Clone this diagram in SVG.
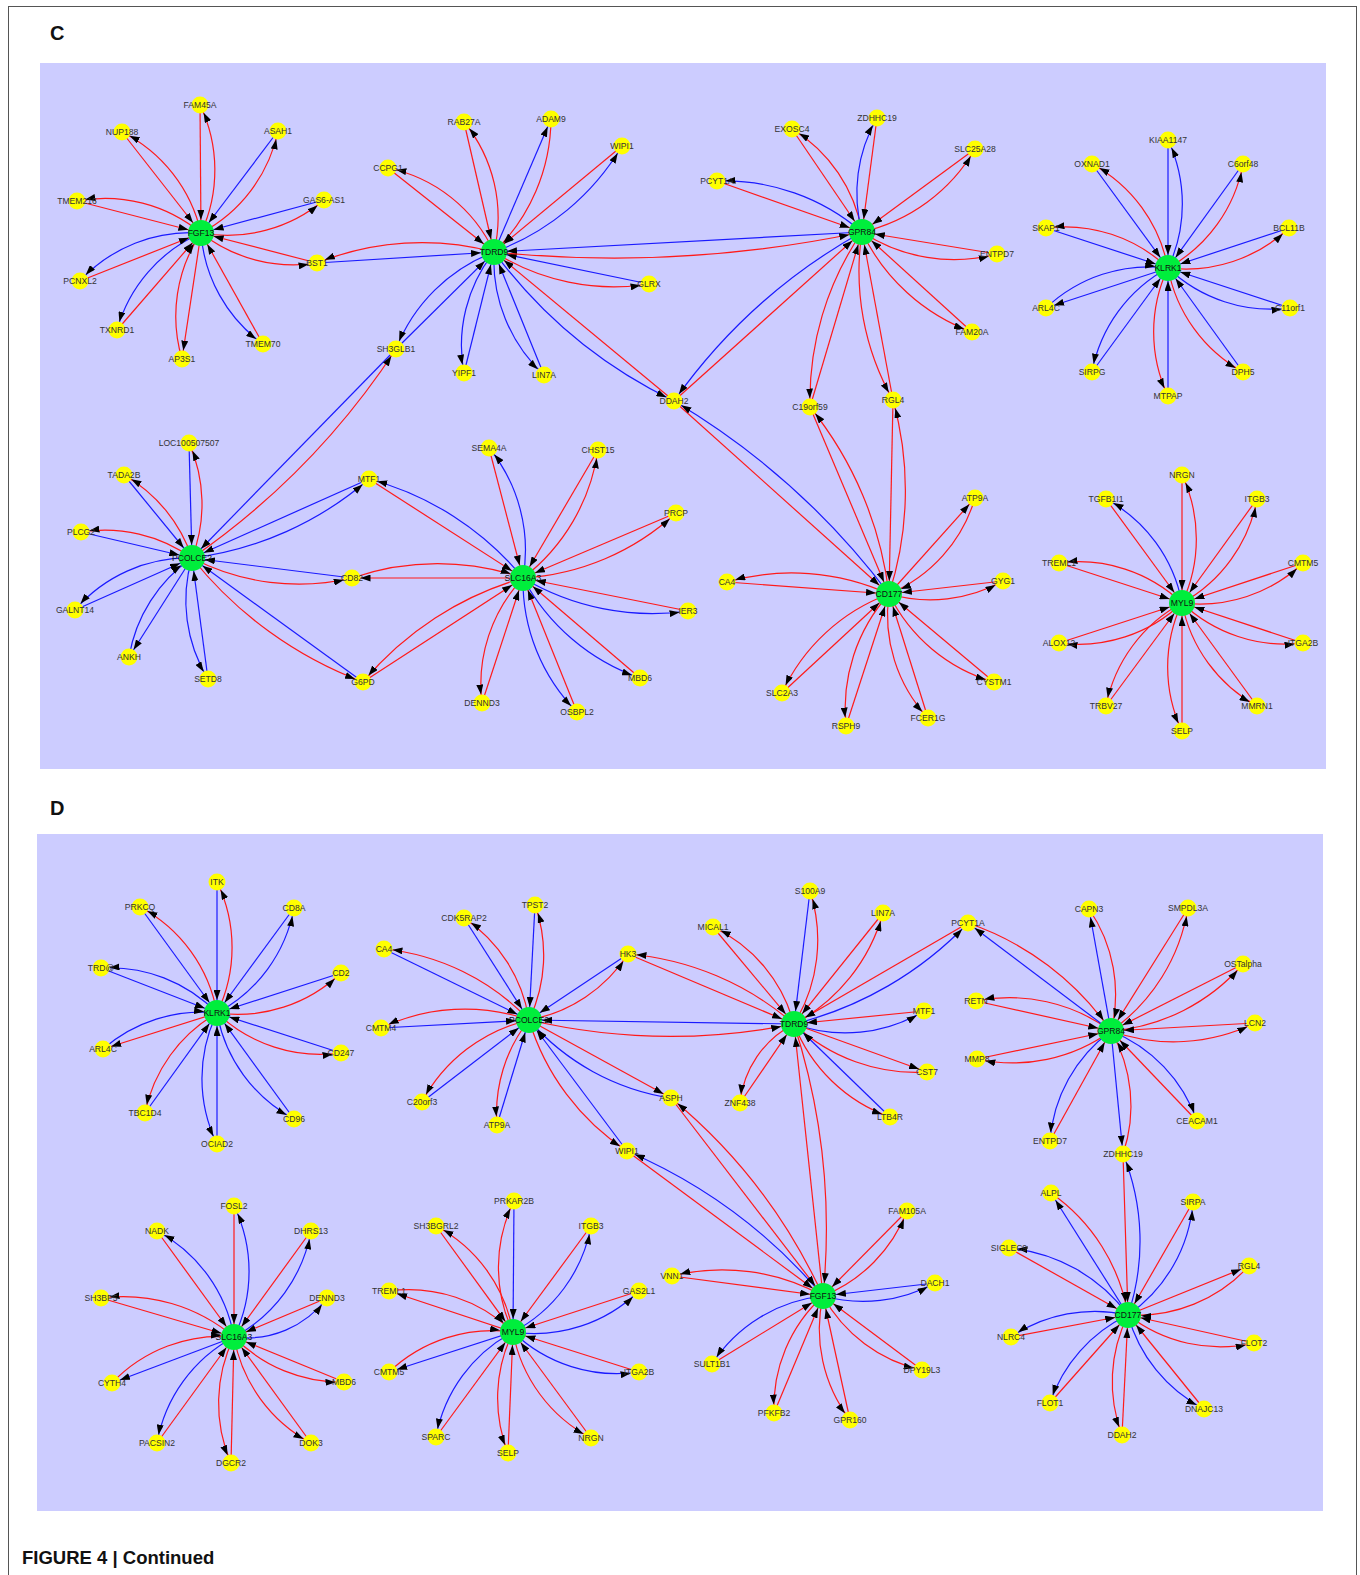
<svg xmlns="http://www.w3.org/2000/svg" width="1360" height="1575" viewBox="0 0 1360 1575">
<defs>
<marker id="ah" markerUnits="userSpaceOnUse" viewBox="0 0 10 7" refX="23" refY="3.5" markerWidth="10" markerHeight="7" orient="auto"><path d="M0 0L10 3.5L0 7z" fill="#000"/></marker>
<marker id="as" markerUnits="userSpaceOnUse" viewBox="0 0 10 7" refX="18.5" refY="3.5" markerWidth="10" markerHeight="7" orient="auto"><path d="M0 0L10 3.5L0 7z" fill="#000"/></marker>
<style>
#edges path{fill:none;stroke-width:1.2}
.r{stroke:#ff1a1a}.b{stroke:#1a1aff}
.h{marker-end:url(#ah)}.s{marker-end:url(#as)}
.hub circle{fill:#00ee3c}.sat circle{fill:#ffff00}
.hub text,.sat text{font-family:"Liberation Sans",Arial,sans-serif;font-size:8.6px;text-anchor:middle;fill:#333}
.hub text{fill:#111}
.title{font-family:"Liberation Sans",Arial,sans-serif;font-weight:bold;fill:#111}
</style>
</defs>
<rect x="0" y="0" width="1360" height="1575" fill="#fff"/>
<rect x="8.5" y="6.5" width="1348" height="1580" fill="none" stroke="#555" stroke-width="1"/>
<text class="title" x="50" y="40" font-size="20">C</text>
<text class="title" x="50" y="815" font-size="20">D</text>
<text class="title" x="22" y="1564" font-size="18.5" fill="#1d2535">FIGURE 4 | Continued</text>
<rect x="40" y="63" width="1286" height="706" fill="#ccccff"/>
<rect x="37" y="834" width="1286" height="677" fill="#ccccff"/>
<g id="edges">
<path class="r h" d="M200 105L201 233"/><path class="r s" d="M201 233A150 150 0 0 0 200 105"/>
<path class="r h" d="M122 132L201 233"/><path class="r s" d="M201 233A150 150 0 0 0 122 132"/>
<path class="b h" d="M278 131L201 233"/><path class="r s" d="M201 233A150 150 0 0 0 278 131"/>
<path class="r h" d="M77 201L201 233"/><path class="r s" d="M201 233A150 150 0 0 0 77 201"/>
<path class="b h" d="M324 200L201 233"/><path class="r s" d="M201 233A150 150 0 0 0 324 200"/>
<path class="r h" d="M317 263L201 233"/><path class="r s" d="M201 233A150 150 0 0 0 317 263"/>
<path class="r h" d="M263 344L201 233"/><path class="b s" d="M201 233A150 150 0 0 0 263 344"/>
<path class="r s" d="M201 233L182 359"/><path class="r h" d="M182 359A150 150 0 0 1 201 233"/>
<path class="r h" d="M117 330L201 233"/><path class="b s" d="M201 233A150 150 0 0 0 117 330"/>
<path class="r h" d="M80 281L201 233"/><path class="b s" d="M201 233A150 150 0 0 0 80 281"/>
<path class="r h" d="M388 168L494 252"/><path class="r s" d="M494 252A150 150 0 0 0 388 168"/>
<path class="r h" d="M464 122L494 252"/><path class="r s" d="M494 252A150 150 0 0 0 464 122"/>
<path class="b s" d="M494 252L551 119"/><path class="r h" d="M551 119A187 187 0 0 1 494 252"/>
<path class="r h" d="M622 146L494 252"/><path class="b s" d="M494 252A247 247 0 0 0 622 146"/>
<path class="b h" d="M649 284L494 252"/><path class="r s" d="M494 252A224 224 0 0 0 649 284"/>
<path class="b h" d="M544 375L494 252"/><path class="b s" d="M494 252A157 157 0 0 0 544 375"/>
<path class="r h" d="M674 401L494 252"/><path class="b s" d="M494 252A488 488 0 0 0 674 401"/>
<path class="b h" d="M464 373L494 252"/><path class="b s" d="M494 252A150 150 0 0 0 464 373"/>
<path class="b h" d="M396 349L494 252"/><path class="b s" d="M494 252A170 170 0 0 0 396 349"/>
<path class="b h" d="M317 263L494 252"/><path class="r s" d="M494 252A280 280 0 0 0 317 263"/>
<path class="b h" d="M862 232L494 252"/><path class="r h" d="M494 252A1200 1200 0 0 0 862 232"/>
<path class="r h" d="M717 181L862 232"/><path class="b s" d="M862 232A211 211 0 0 0 717 181"/>
<path class="r h" d="M792 129L862 232"/><path class="r s" d="M862 232A150 150 0 0 0 792 129"/>
<path class="r h" d="M877 118L862 232"/><path class="b s" d="M862 232A150 150 0 0 1 877 118"/>
<path class="r h" d="M975 149L862 232"/><path class="r s" d="M862 232A176 176 0 0 0 975 149"/>
<path class="r h" d="M997 254L862 232"/><path class="r s" d="M862 232A167 167 0 0 0 997 254"/>
<path class="r h" d="M972 332L862 232"/><path class="r s" d="M862 232A197 197 0 0 0 972 332"/>
<path class="r h" d="M893 400L862 232"/><path class="r s" d="M862 232A260 260 0 0 0 893 400"/>
<path class="r h" d="M810 407L862 232"/><path class="r s" d="M862 232A297 297 0 0 0 810 407"/>
<path class="r h" d="M674 401L862 232"/><path class="b s" d="M862 232A571 571 0 0 0 674 401"/>
<path class="r h" d="M893 400L889 594"/><path class="r s" d="M889 594A336 336 0 0 0 893 400"/>
<path class="r h" d="M810 407L889 594"/><path class="r s" d="M889 594A368 368 0 0 0 810 407"/>
<path class="r h" d="M674 401L889 594"/><path class="b s" d="M889 594A745 745 0 0 0 674 401"/>
<path class="r h" d="M727 582L889 594"/><path class="r s" d="M889 594A236 236 0 0 0 727 582"/>
<path class="r h" d="M782 693L889 594"/><path class="r s" d="M889 594A190 190 0 0 0 782 693"/>
<path class="r h" d="M846 726L889 594"/><path class="r s" d="M889 594A172 172 0 0 0 846 726"/>
<path class="r h" d="M928 718L889 594"/><path class="r s" d="M889 594A151 151 0 0 0 928 718"/>
<path class="r h" d="M994 682L889 594"/><path class="r s" d="M889 594A168 168 0 0 0 994 682"/>
<path class="r h" d="M1003 581L889 594"/><path class="r s" d="M889 594A150 150 0 0 0 1003 581"/>
<path class="r s" d="M889 594L975 498"/><path class="r h" d="M975 498A150 150 0 0 1 889 594"/>
<path class="b h" d="M1168 140L1168 268"/><path class="b s" d="M1168 268A150 150 0 0 0 1168 140"/>
<path class="b h" d="M1092 164L1168 268"/><path class="r s" d="M1168 268A150 150 0 0 0 1092 164"/>
<path class="b h" d="M1243 164L1168 268"/><path class="r s" d="M1168 268A150 150 0 0 0 1243 164"/>
<path class="b h" d="M1046 228L1168 268"/><path class="r s" d="M1168 268A150 150 0 0 0 1046 228"/>
<path class="b h" d="M1289 228L1168 268"/><path class="r s" d="M1168 268A150 150 0 0 0 1289 228"/>
<path class="b h" d="M1290 308L1168 268"/><path class="b s" d="M1168 268A150 150 0 0 0 1290 308"/>
<path class="b h" d="M1243 372L1168 268"/><path class="r s" d="M1168 268A150 150 0 0 0 1243 372"/>
<path class="b h" d="M1168 396L1168 268"/><path class="r s" d="M1168 268A150 150 0 0 0 1168 396"/>
<path class="b h" d="M1092 372L1168 268"/><path class="b s" d="M1168 268A150 150 0 0 0 1092 372"/>
<path class="b s" d="M1168 268L1046 308"/><path class="b h" d="M1046 308A150 150 0 0 1 1168 268"/>
<path class="b h" d="M189 443L192 558"/><path class="r s" d="M192 558A150 150 0 0 0 189 443"/>
<path class="b h" d="M124 475L192 558"/><path class="r s" d="M192 558A150 150 0 0 0 124 475"/>
<path class="b h" d="M81 532L192 558"/><path class="r s" d="M192 558A150 150 0 0 0 81 532"/>
<path class="b h" d="M75 610L192 558"/><path class="b s" d="M192 558A150 150 0 0 0 75 610"/>
<path class="b s" d="M192 558L129 657"/><path class="b h" d="M129 657A150 150 0 0 1 192 558"/>
<path class="b h" d="M208 679L192 558"/><path class="b s" d="M192 558A150 150 0 0 0 208 679"/>
<path class="b h" d="M363 682L192 558"/><path class="r s" d="M192 558A398 398 0 0 0 363 682"/>
<path class="b h" d="M352 578L192 558"/><path class="r s" d="M192 558A232 232 0 0 0 352 578"/>
<path class="b h" d="M369 479L192 558"/><path class="b s" d="M192 558A335 335 0 0 0 369 479"/>
<path class="b h" d="M396 349L192 558"/><path class="r s" d="M192 558A761 761 0 0 0 396 349"/>
<path class="r h" d="M369 479L523 578"/><path class="b s" d="M523 578A299 299 0 0 0 369 479"/>
<path class="r h" d="M489 448L523 578"/><path class="b s" d="M523 578A161 161 0 0 0 489 448"/>
<path class="r h" d="M598 450L523 578"/><path class="r s" d="M523 578A197 197 0 0 0 598 450"/>
<path class="r h" d="M676 513L523 578"/><path class="r s" d="M523 578A247 247 0 0 0 676 513"/>
<path class="r h" d="M688 611L523 578"/><path class="b s" d="M523 578A253 253 0 0 0 688 611"/>
<path class="r h" d="M640 678L523 578"/><path class="b s" d="M523 578A211 211 0 0 0 640 678"/>
<path class="r h" d="M577 712L523 578"/><path class="b s" d="M523 578A186 186 0 0 0 577 712"/>
<path class="r h" d="M482 703L523 578"/><path class="r s" d="M523 578A155 155 0 0 0 482 703"/>
<path class="r h" d="M363 682L523 578"/><path class="r s" d="M523 578A325 325 0 0 0 363 682"/>
<path class="r s" d="M523 578L352 578"/><path class="r h" d="M352 578A261 261 0 0 1 523 578"/>
<path class="r h" d="M1182 475L1182 603"/><path class="r s" d="M1182 603A150 150 0 0 0 1182 475"/>
<path class="r h" d="M1106 499L1182 603"/><path class="b s" d="M1182 603A150 150 0 0 0 1106 499"/>
<path class="r h" d="M1257 499L1182 603"/><path class="r s" d="M1182 603A150 150 0 0 0 1257 499"/>
<path class="r h" d="M1303 563L1182 603"/><path class="r s" d="M1182 603A150 150 0 0 0 1303 563"/>
<path class="r h" d="M1303 643L1182 603"/><path class="r s" d="M1182 603A150 150 0 0 0 1303 643"/>
<path class="r h" d="M1257 706L1182 603"/><path class="r s" d="M1182 603A150 150 0 0 0 1257 706"/>
<path class="r h" d="M1182 731L1182 603"/><path class="r s" d="M1182 603A150 150 0 0 0 1182 731"/>
<path class="r h" d="M1106 706L1182 603"/><path class="r s" d="M1182 603A150 150 0 0 0 1106 706"/>
<path class="r h" d="M1059 643L1182 603"/><path class="r s" d="M1182 603A150 150 0 0 1 1059 643"/>
<path class="r h" d="M1059 563L1182 603"/><path class="r s" d="M1182 603A150 150 0 0 0 1059 563"/>
<path class="b h" d="M217 882L217 1013"/><path class="r s" d="M217 1013A150 150 0 0 0 217 882"/>
<path class="b h" d="M140 907L217 1013"/><path class="r s" d="M217 1013A150 150 0 0 0 140 907"/>
<path class="b h" d="M294 908L217 1013"/><path class="b s" d="M217 1013A150 150 0 0 0 294 908"/>
<path class="b h" d="M341 973L217 1013"/><path class="r s" d="M217 1013A150 150 0 0 0 341 973"/>
<path class="b h" d="M341 1053L217 1013"/><path class="r s" d="M217 1013A150 150 0 0 0 341 1053"/>
<path class="b h" d="M294 1119L217 1013"/><path class="b s" d="M217 1013A150 150 0 0 0 294 1119"/>
<path class="b h" d="M217 1144L217 1013"/><path class="b s" d="M217 1013A150 150 0 0 0 217 1144"/>
<path class="b h" d="M145 1113L217 1013"/><path class="r s" d="M217 1013A150 150 0 0 0 145 1113"/>
<path class="r s" d="M217 1013L103 1049"/><path class="b h" d="M103 1049A150 150 0 0 1 217 1013"/>
<path class="b h" d="M101 968L217 1013"/><path class="b s" d="M217 1013A150 150 0 0 0 101 968"/>
<path class="b h" d="M535 905L529 1020"/><path class="r s" d="M529 1020A150 150 0 0 0 535 905"/>
<path class="b h" d="M464 918L529 1020"/><path class="r s" d="M529 1020A150 150 0 0 0 464 918"/>
<path class="b h" d="M384 949L529 1020"/><path class="r s" d="M529 1020A233 233 0 0 0 384 949"/>
<path class="b h" d="M381 1028L529 1020"/><path class="r s" d="M529 1020A196 196 0 0 0 381 1028"/>
<path class="b h" d="M422 1102L529 1020"/><path class="r s" d="M529 1020A162 162 0 0 0 422 1102"/>
<path class="b h" d="M497 1125L529 1020"/><path class="r s" d="M529 1020A150 150 0 0 0 497 1125"/>
<path class="b h" d="M627 1151L529 1020"/><path class="r s" d="M529 1020A239 239 0 0 0 627 1151"/>
<path class="r s" d="M529 1020L671 1098"/><path class="b h" d="M671 1098A234 234 0 0 1 529 1020"/>
<path class="b h" d="M628 954L529 1020"/><path class="r s" d="M529 1020A150 150 0 0 0 628 954"/>
<path class="b h" d="M794 1024L529 1020"/><path class="r h" d="M529 1020A627 627 0 0 0 794 1024"/>
<path class="b h" d="M810 891L794 1024"/><path class="r s" d="M794 1024A160 160 0 0 0 810 891"/>
<path class="r h" d="M883 913L794 1024"/><path class="r s" d="M794 1024A181 181 0 0 0 883 913"/>
<path class="r h" d="M968 923L794 1024"/><path class="b s" d="M794 1024A361 361 0 0 0 968 923"/>
<path class="r h" d="M924 1011L794 1024"/><path class="b s" d="M794 1024A152 152 0 0 0 924 1011"/>
<path class="r s" d="M794 1024L927 1072"/><path class="r h" d="M927 1072A178 178 0 0 1 794 1024"/>
<path class="b h" d="M890 1117L794 1024"/><path class="r s" d="M794 1024A160 160 0 0 0 890 1117"/>
<path class="r h" d="M740 1103L794 1024"/><path class="r s" d="M794 1024A100 100 0 0 0 740 1103"/>
<path class="r h" d="M713 927L794 1024"/><path class="r s" d="M794 1024A150 150 0 0 0 713 927"/>
<path class="r h" d="M628 954L794 1024"/><path class="r s" d="M794 1024A290 290 0 0 0 628 954"/>
<path class="r h" d="M823 1296L794 1024"/><path class="r h" d="M794 1024A668 668 0 0 1 823 1296"/>
<path class="r h" d="M627 1151L823 1296"/><path class="b s" d="M823 1296A531 531 0 0 0 627 1151"/>
<path class="r h" d="M671 1098L823 1296"/><path class="r s" d="M823 1296A556 556 0 0 0 671 1098"/>
<path class="r h" d="M672 1276L823 1296"/><path class="r s" d="M823 1296A207 207 0 0 0 672 1276"/>
<path class="r h" d="M712 1364L823 1296"/><path class="b s" d="M823 1296A151 151 0 0 0 712 1364"/>
<path class="r h" d="M774 1413L823 1296"/><path class="r s" d="M823 1296A150 150 0 0 0 774 1413"/>
<path class="r h" d="M850 1420L823 1296"/><path class="r s" d="M823 1296A150 150 0 0 0 850 1420"/>
<path class="r h" d="M922 1370L823 1296"/><path class="r s" d="M823 1296A150 150 0 0 0 922 1370"/>
<path class="b h" d="M935 1283L823 1296"/><path class="b s" d="M823 1296A150 150 0 0 0 935 1283"/>
<path class="r h" d="M907 1211L823 1296"/><path class="r s" d="M823 1296A150 150 0 0 0 907 1211"/>
<path class="b h" d="M514 1201L513 1332"/><path class="r s" d="M513 1332A150 150 0 0 1 514 1201"/>
<path class="r h" d="M591 1226L513 1332"/><path class="b s" d="M513 1332A150 150 0 0 0 591 1226"/>
<path class="r h" d="M639 1291L513 1332"/><path class="b s" d="M513 1332A150 150 0 0 0 639 1291"/>
<path class="r h" d="M639 1372L513 1332"/><path class="b s" d="M513 1332A150 150 0 0 0 639 1372"/>
<path class="r h" d="M591 1438L513 1332"/><path class="r s" d="M513 1332A150 150 0 0 0 591 1438"/>
<path class="r h" d="M508 1453L513 1332"/><path class="r s" d="M513 1332A150 150 0 0 0 508 1453"/>
<path class="r h" d="M436 1437L513 1332"/><path class="b s" d="M513 1332A150 150 0 0 0 436 1437"/>
<path class="b s" d="M513 1332L389 1372"/><path class="r h" d="M389 1372A150 150 0 0 1 513 1332"/>
<path class="r s" d="M513 1332L389 1291"/><path class="r h" d="M389 1291A150 150 0 0 1 513 1332"/>
<path class="r h" d="M436 1226L513 1332"/><path class="r s" d="M513 1332A150 150 0 0 0 436 1226"/>
<path class="r h" d="M234 1206L234 1337"/><path class="b s" d="M234 1337A150 150 0 0 0 234 1206"/>
<path class="r h" d="M157 1231L234 1337"/><path class="b s" d="M234 1337A150 150 0 0 0 157 1231"/>
<path class="r h" d="M311 1231L234 1337"/><path class="b s" d="M234 1337A150 150 0 0 0 311 1231"/>
<path class="r h" d="M327 1298L234 1337"/><path class="b s" d="M234 1337A100 100 0 0 0 327 1298"/>
<path class="r h" d="M344 1382L234 1337"/><path class="r s" d="M234 1337A150 150 0 0 0 344 1382"/>
<path class="r h" d="M311 1443L234 1337"/><path class="r s" d="M234 1337A150 150 0 0 0 311 1443"/>
<path class="r h" d="M231 1463L234 1337"/><path class="r s" d="M234 1337A150 150 0 0 0 231 1463"/>
<path class="r h" d="M157 1443L234 1337"/><path class="b s" d="M234 1337A150 150 0 0 0 157 1443"/>
<path class="b s" d="M234 1337L112 1383"/><path class="r h" d="M112 1383A150 150 0 0 1 234 1337"/>
<path class="r h" d="M101 1298L234 1337"/><path class="r s" d="M234 1337A172 172 0 0 0 101 1298"/>
<path class="b s" d="M1111 1031L1089 909"/><path class="r h" d="M1089 909A150 150 0 0 1 1111 1031"/>
<path class="r h" d="M1188 908L1111 1031"/><path class="r s" d="M1111 1031A188 188 0 0 0 1188 908"/>
<path class="r h" d="M1243 964L1111 1031"/><path class="r s" d="M1111 1031A196 196 0 0 0 1243 964"/>
<path class="r h" d="M1255 1023L1111 1031"/><path class="r s" d="M1111 1031A186 186 0 0 0 1255 1023"/>
<path class="r h" d="M1197 1121L1111 1031"/><path class="b s" d="M1111 1031A150 150 0 0 1 1197 1121"/>
<path class="b s" d="M1111 1031L1123 1154"/><path class="r h" d="M1123 1154A150 150 0 0 0 1111 1031"/>
<path class="r h" d="M1050 1141L1111 1031"/><path class="b s" d="M1111 1031A150 150 0 0 0 1050 1141"/>
<path class="r h" d="M977 1059L1111 1031"/><path class="r s" d="M1111 1031A167 167 0 0 1 977 1059"/>
<path class="r h" d="M976 1001L1111 1031"/><path class="r s" d="M1111 1031A171 171 0 0 0 976 1001"/>
<path class="b s" d="M1111 1031L968 923"/><path class="r h" d="M968 923A287 287 0 0 1 1111 1031"/>
<path class="r h" d="M1123 1154L1128 1315"/><path class="b s" d="M1128 1315A232 232 0 0 0 1123 1154"/>
<path class="b s" d="M1128 1315L1051 1193"/><path class="r h" d="M1051 1193A186 186 0 0 1 1128 1315"/>
<path class="r h" d="M1193 1202L1128 1315"/><path class="b s" d="M1128 1315A152 152 0 0 0 1193 1202"/>
<path class="r s" d="M1128 1315L1249 1266"/><path class="r h" d="M1249 1266A152 152 0 0 1 1128 1315"/>
<path class="r h" d="M1254 1343L1128 1315"/><path class="r s" d="M1128 1315A150 150 0 0 0 1254 1343"/>
<path class="r h" d="M1204 1409L1128 1315"/><path class="b s" d="M1128 1315A150 150 0 0 0 1204 1409"/>
<path class="r h" d="M1122 1435L1128 1315"/><path class="r s" d="M1128 1315A150 150 0 0 0 1122 1435"/>
<path class="r h" d="M1050 1403L1128 1315"/><path class="b s" d="M1128 1315A150 150 0 0 0 1050 1403"/>
<path class="r h" d="M1011 1337L1128 1315"/><path class="b s" d="M1128 1315A150 150 0 0 0 1011 1337"/>
<path class="r h" d="M1009 1248L1128 1315"/><path class="b s" d="M1128 1315A167 167 0 0 0 1009 1248"/>
</g>
<g id="nodes-c">
<g id="c-FGF13" class="hub"><circle cx="201" cy="233" r="13"/><text x="201" y="236">FGF13</text></g>
<g id="c-TDRD9" class="hub"><circle cx="494" cy="252" r="13"/><text x="494" y="255">TDRD9</text></g>
<g id="c-GPR84" class="hub"><circle cx="862" cy="232" r="13"/><text x="862" y="235">GPR84</text></g>
<g id="c-KLRK1" class="hub"><circle cx="1168" cy="268" r="13"/><text x="1168" y="271">KLRK1</text></g>
<g id="c-PCOLCE2" class="hub"><circle cx="192" cy="558" r="13"/><text x="192" y="561">PCOLCE2</text></g>
<g id="c-SLC16A3" class="hub"><circle cx="523" cy="578" r="13"/><text x="523" y="581">SLC16A3</text></g>
<g id="c-CD177" class="hub"><circle cx="889" cy="594" r="13"/><text x="889" y="597">CD177</text></g>
<g id="c-MYL9" class="hub"><circle cx="1182" cy="603" r="13"/><text x="1182" y="606">MYL9</text></g>
<g id="c-FAM45A" class="sat"><circle cx="200" cy="105" r="8.5"/><text x="200" y="108">FAM45A</text></g>
<g id="c-NUP188" class="sat"><circle cx="122" cy="132" r="8.5"/><text x="122" y="135">NUP188</text></g>
<g id="c-ASAH1" class="sat"><circle cx="278" cy="131" r="8.5"/><text x="278" y="134">ASAH1</text></g>
<g id="c-TMEM216" class="sat"><circle cx="77" cy="201" r="8.5"/><text x="77" y="204">TMEM216</text></g>
<g id="c-GAS6-AS1" class="sat"><circle cx="324" cy="200" r="8.5"/><text x="324" y="203">GAS6-AS1</text></g>
<g id="c-PCNXL2" class="sat"><circle cx="80" cy="281" r="8.5"/><text x="80" y="284">PCNXL2</text></g>
<g id="c-BST1" class="sat"><circle cx="317" cy="263" r="8.5"/><text x="317" y="266">BST1</text></g>
<g id="c-TXNRD1" class="sat"><circle cx="117" cy="330" r="8.5"/><text x="117" y="333">TXNRD1</text></g>
<g id="c-AP3S1" class="sat"><circle cx="182" cy="359" r="8.5"/><text x="182" y="362">AP3S1</text></g>
<g id="c-TMEM70" class="sat"><circle cx="263" cy="344" r="8.5"/><text x="263" y="347">TMEM70</text></g>
<g id="c-CCPG1" class="sat"><circle cx="388" cy="168" r="8.5"/><text x="388" y="171">CCPG1</text></g>
<g id="c-RAB27A" class="sat"><circle cx="464" cy="122" r="8.5"/><text x="464" y="125">RAB27A</text></g>
<g id="c-ADAM9" class="sat"><circle cx="551" cy="119" r="8.5"/><text x="551" y="122">ADAM9</text></g>
<g id="c-WIPI1" class="sat"><circle cx="622" cy="146" r="8.5"/><text x="622" y="149">WIPI1</text></g>
<g id="c-GLRX" class="sat"><circle cx="649" cy="284" r="8.5"/><text x="649" y="287">GLRX</text></g>
<g id="c-LIN7A" class="sat"><circle cx="544" cy="375" r="8.5"/><text x="544" y="378">LIN7A</text></g>
<g id="c-YIPF1" class="sat"><circle cx="464" cy="373" r="8.5"/><text x="464" y="376">YIPF1</text></g>
<g id="c-SH3GLB1" class="sat"><circle cx="396" cy="349" r="8.5"/><text x="396" y="352">SH3GLB1</text></g>
<g id="c-DDAH2" class="sat"><circle cx="674" cy="401" r="8.5"/><text x="674" y="404">DDAH2</text></g>
<g id="c-PCYT1A" class="sat"><circle cx="717" cy="181" r="8.5"/><text x="717" y="184">PCYT1A</text></g>
<g id="c-EXOSC4" class="sat"><circle cx="792" cy="129" r="8.5"/><text x="792" y="132">EXOSC4</text></g>
<g id="c-ZDHHC19" class="sat"><circle cx="877" cy="118" r="8.5"/><text x="877" y="121">ZDHHC19</text></g>
<g id="c-SLC25A28" class="sat"><circle cx="975" cy="149" r="8.5"/><text x="975" y="152">SLC25A28</text></g>
<g id="c-ENTPD7" class="sat"><circle cx="997" cy="254" r="8.5"/><text x="997" y="257">ENTPD7</text></g>
<g id="c-FAM20A" class="sat"><circle cx="972" cy="332" r="8.5"/><text x="972" y="335">FAM20A</text></g>
<g id="c-RGL4" class="sat"><circle cx="893" cy="400" r="8.5"/><text x="893" y="403">RGL4</text></g>
<g id="c-C19orf59" class="sat"><circle cx="810" cy="407" r="8.5"/><text x="810" y="410">C19orf59</text></g>
<g id="c-KIAA1147" class="sat"><circle cx="1168" cy="140" r="8.5"/><text x="1168" y="143">KIAA1147</text></g>
<g id="c-OXNAD1" class="sat"><circle cx="1092" cy="164" r="8.5"/><text x="1092" y="167">OXNAD1</text></g>
<g id="c-C6orf48" class="sat"><circle cx="1243" cy="164" r="8.5"/><text x="1243" y="167">C6orf48</text></g>
<g id="c-SKAP1" class="sat"><circle cx="1046" cy="228" r="8.5"/><text x="1046" y="231">SKAP1</text></g>
<g id="c-BCL11B" class="sat"><circle cx="1289" cy="228" r="8.5"/><text x="1289" y="231">BCL11B</text></g>
<g id="c-ARL4C" class="sat"><circle cx="1046" cy="308" r="8.5"/><text x="1046" y="311">ARL4C</text></g>
<g id="c-C11orf1" class="sat"><circle cx="1290" cy="308" r="8.5"/><text x="1290" y="311">C11orf1</text></g>
<g id="c-SIRPG" class="sat"><circle cx="1092" cy="372" r="8.5"/><text x="1092" y="375">SIRPG</text></g>
<g id="c-MTPAP" class="sat"><circle cx="1168" cy="396" r="8.5"/><text x="1168" y="399">MTPAP</text></g>
<g id="c-DPH5" class="sat"><circle cx="1243" cy="372" r="8.5"/><text x="1243" y="375">DPH5</text></g>
<g id="c-LOC100507507" class="sat"><circle cx="189" cy="443" r="8.5"/><text x="189" y="446">LOC100507507</text></g>
<g id="c-TADA2B" class="sat"><circle cx="124" cy="475" r="8.5"/><text x="124" y="478">TADA2B</text></g>
<g id="c-PLCG2" class="sat"><circle cx="81" cy="532" r="8.5"/><text x="81" y="535">PLCG2</text></g>
<g id="c-GALNT14" class="sat"><circle cx="75" cy="610" r="8.5"/><text x="75" y="613">GALNT14</text></g>
<g id="c-ANKH" class="sat"><circle cx="129" cy="657" r="8.5"/><text x="129" y="660">ANKH</text></g>
<g id="c-SETD8" class="sat"><circle cx="208" cy="679" r="8.5"/><text x="208" y="682">SETD8</text></g>
<g id="c-MTF1" class="sat"><circle cx="369" cy="479" r="8.5"/><text x="369" y="482">MTF1</text></g>
<g id="c-CD82" class="sat"><circle cx="352" cy="578" r="8.5"/><text x="352" y="581">CD82</text></g>
<g id="c-G6PD" class="sat"><circle cx="363" cy="682" r="8.5"/><text x="363" y="685">G6PD</text></g>
<g id="c-SEMA4A" class="sat"><circle cx="489" cy="448" r="8.5"/><text x="489" y="451">SEMA4A</text></g>
<g id="c-CHST15" class="sat"><circle cx="598" cy="450" r="8.5"/><text x="598" y="453">CHST15</text></g>
<g id="c-PRCP" class="sat"><circle cx="676" cy="513" r="8.5"/><text x="676" y="516">PRCP</text></g>
<g id="c-IER3" class="sat"><circle cx="688" cy="611" r="8.5"/><text x="688" y="614">IER3</text></g>
<g id="c-MBD6" class="sat"><circle cx="640" cy="678" r="8.5"/><text x="640" y="681">MBD6</text></g>
<g id="c-OSBPL2" class="sat"><circle cx="577" cy="712" r="8.5"/><text x="577" y="715">OSBPL2</text></g>
<g id="c-DENND3" class="sat"><circle cx="482" cy="703" r="8.5"/><text x="482" y="706">DENND3</text></g>
<g id="c-CA4" class="sat"><circle cx="727" cy="582" r="8.5"/><text x="727" y="585">CA4</text></g>
<g id="c-SLC2A3" class="sat"><circle cx="782" cy="693" r="8.5"/><text x="782" y="696">SLC2A3</text></g>
<g id="c-RSPH9" class="sat"><circle cx="846" cy="726" r="8.5"/><text x="846" y="729">RSPH9</text></g>
<g id="c-FCER1G" class="sat"><circle cx="928" cy="718" r="8.5"/><text x="928" y="721">FCER1G</text></g>
<g id="c-CYSTM1" class="sat"><circle cx="994" cy="682" r="8.5"/><text x="994" y="685">CYSTM1</text></g>
<g id="c-GYG1" class="sat"><circle cx="1003" cy="581" r="8.5"/><text x="1003" y="584">GYG1</text></g>
<g id="c-ATP9A" class="sat"><circle cx="975" cy="498" r="8.5"/><text x="975" y="501">ATP9A</text></g>
<g id="c-NRGN" class="sat"><circle cx="1182" cy="475" r="8.5"/><text x="1182" y="478">NRGN</text></g>
<g id="c-TGFB1I1" class="sat"><circle cx="1106" cy="499" r="8.5"/><text x="1106" y="502">TGFB1I1</text></g>
<g id="c-ITGB3" class="sat"><circle cx="1257" cy="499" r="8.5"/><text x="1257" y="502">ITGB3</text></g>
<g id="c-TREML1" class="sat"><circle cx="1059" cy="563" r="8.5"/><text x="1059" y="566">TREML1</text></g>
<g id="c-CMTM5" class="sat"><circle cx="1303" cy="563" r="8.5"/><text x="1303" y="566">CMTM5</text></g>
<g id="c-ALOX12" class="sat"><circle cx="1059" cy="643" r="8.5"/><text x="1059" y="646">ALOX12</text></g>
<g id="c-ITGA2B" class="sat"><circle cx="1303" cy="643" r="8.5"/><text x="1303" y="646">ITGA2B</text></g>
<g id="c-TRBV27" class="sat"><circle cx="1106" cy="706" r="8.5"/><text x="1106" y="709">TRBV27</text></g>
<g id="c-MMRN1" class="sat"><circle cx="1257" cy="706" r="8.5"/><text x="1257" y="709">MMRN1</text></g>
<g id="c-SELP" class="sat"><circle cx="1182" cy="731" r="8.5"/><text x="1182" y="734">SELP</text></g>
</g>
<g id="nodes-d">
<g id="d-KLRK1" class="hub"><circle cx="217" cy="1013" r="13"/><text x="217" y="1016">KLRK1</text></g>
<g id="d-PCOLCE2" class="hub"><circle cx="529" cy="1020" r="13"/><text x="529" y="1023">PCOLCE2</text></g>
<g id="d-TDRD9" class="hub"><circle cx="794" cy="1024" r="13"/><text x="794" y="1027">TDRD9</text></g>
<g id="d-GPR84" class="hub"><circle cx="1111" cy="1031" r="13"/><text x="1111" y="1034">GPR84</text></g>
<g id="d-SLC16A3" class="hub"><circle cx="234" cy="1337" r="13"/><text x="234" y="1340">SLC16A3</text></g>
<g id="d-MYL9" class="hub"><circle cx="513" cy="1332" r="13"/><text x="513" y="1335">MYL9</text></g>
<g id="d-FGF13" class="hub"><circle cx="823" cy="1296" r="13"/><text x="823" y="1299">FGF13</text></g>
<g id="d-CD177" class="hub"><circle cx="1128" cy="1315" r="13"/><text x="1128" y="1318">CD177</text></g>
<g id="d-ITK" class="sat"><circle cx="217" cy="882" r="8.5"/><text x="217" y="885">ITK</text></g>
<g id="d-PRKCQ" class="sat"><circle cx="140" cy="907" r="8.5"/><text x="140" y="910">PRKCQ</text></g>
<g id="d-CD8A" class="sat"><circle cx="294" cy="908" r="8.5"/><text x="294" y="911">CD8A</text></g>
<g id="d-TRD" class="sat"><circle cx="101" cy="968" r="8.5"/><text x="101" y="971">TRD@</text></g>
<g id="d-CD2" class="sat"><circle cx="341" cy="973" r="8.5"/><text x="341" y="976">CD2</text></g>
<g id="d-ARL4C" class="sat"><circle cx="103" cy="1049" r="8.5"/><text x="103" y="1052">ARL4C</text></g>
<g id="d-CD247" class="sat"><circle cx="341" cy="1053" r="8.5"/><text x="341" y="1056">CD247</text></g>
<g id="d-TBC1D4" class="sat"><circle cx="145" cy="1113" r="8.5"/><text x="145" y="1116">TBC1D4</text></g>
<g id="d-OCIAD2" class="sat"><circle cx="217" cy="1144" r="8.5"/><text x="217" y="1147">OCIAD2</text></g>
<g id="d-CD96" class="sat"><circle cx="294" cy="1119" r="8.5"/><text x="294" y="1122">CD96</text></g>
<g id="d-CA4" class="sat"><circle cx="384" cy="949" r="8.5"/><text x="384" y="952">CA4</text></g>
<g id="d-CDK5RAP2" class="sat"><circle cx="464" cy="918" r="8.5"/><text x="464" y="921">CDK5RAP2</text></g>
<g id="d-TPST2" class="sat"><circle cx="535" cy="905" r="8.5"/><text x="535" y="908">TPST2</text></g>
<g id="d-CMTM4" class="sat"><circle cx="381" cy="1028" r="8.5"/><text x="381" y="1031">CMTM4</text></g>
<g id="d-C20orf3" class="sat"><circle cx="422" cy="1102" r="8.5"/><text x="422" y="1105">C20orf3</text></g>
<g id="d-ATP9A" class="sat"><circle cx="497" cy="1125" r="8.5"/><text x="497" y="1128">ATP9A</text></g>
<g id="d-HK3" class="sat"><circle cx="628" cy="954" r="8.5"/><text x="628" y="957">HK3</text></g>
<g id="d-ASPH" class="sat"><circle cx="671" cy="1098" r="8.5"/><text x="671" y="1101">ASPH</text></g>
<g id="d-WIPI1" class="sat"><circle cx="627" cy="1151" r="8.5"/><text x="627" y="1154">WIPI1</text></g>
<g id="d-MICAL1" class="sat"><circle cx="713" cy="927" r="8.5"/><text x="713" y="930">MICAL1</text></g>
<g id="d-S100A9" class="sat"><circle cx="810" cy="891" r="8.5"/><text x="810" y="894">S100A9</text></g>
<g id="d-LIN7A" class="sat"><circle cx="883" cy="913" r="8.5"/><text x="883" y="916">LIN7A</text></g>
<g id="d-PCYT1A" class="sat"><circle cx="968" cy="923" r="8.5"/><text x="968" y="926">PCYT1A</text></g>
<g id="d-MTF1" class="sat"><circle cx="924" cy="1011" r="8.5"/><text x="924" y="1014">MTF1</text></g>
<g id="d-CST7" class="sat"><circle cx="927" cy="1072" r="8.5"/><text x="927" y="1075">CST7</text></g>
<g id="d-LTB4R" class="sat"><circle cx="890" cy="1117" r="8.5"/><text x="890" y="1120">LTB4R</text></g>
<g id="d-ZNF438" class="sat"><circle cx="740" cy="1103" r="8.5"/><text x="740" y="1106">ZNF438</text></g>
<g id="d-CAPN3" class="sat"><circle cx="1089" cy="909" r="8.5"/><text x="1089" y="912">CAPN3</text></g>
<g id="d-SMPDL3A" class="sat"><circle cx="1188" cy="908" r="8.5"/><text x="1188" y="911">SMPDL3A</text></g>
<g id="d-OSTalpha" class="sat"><circle cx="1243" cy="964" r="8.5"/><text x="1243" y="967">OSTalpha</text></g>
<g id="d-RETN" class="sat"><circle cx="976" cy="1001" r="8.5"/><text x="976" y="1004">RETN</text></g>
<g id="d-LCN2" class="sat"><circle cx="1255" cy="1023" r="8.5"/><text x="1255" y="1026">LCN2</text></g>
<g id="d-MMP8" class="sat"><circle cx="977" cy="1059" r="8.5"/><text x="977" y="1062">MMP8</text></g>
<g id="d-CEACAM1" class="sat"><circle cx="1197" cy="1121" r="8.5"/><text x="1197" y="1124">CEACAM1</text></g>
<g id="d-ENTPD7" class="sat"><circle cx="1050" cy="1141" r="8.5"/><text x="1050" y="1144">ENTPD7</text></g>
<g id="d-ZDHHC19" class="sat"><circle cx="1123" cy="1154" r="8.5"/><text x="1123" y="1157">ZDHHC19</text></g>
<g id="d-FOSL2" class="sat"><circle cx="234" cy="1206" r="8.5"/><text x="234" y="1209">FOSL2</text></g>
<g id="d-NADK" class="sat"><circle cx="157" cy="1231" r="8.5"/><text x="157" y="1234">NADK</text></g>
<g id="d-DHRS13" class="sat"><circle cx="311" cy="1231" r="8.5"/><text x="311" y="1234">DHRS13</text></g>
<g id="d-SH3BP5" class="sat"><circle cx="101" cy="1298" r="8.5"/><text x="101" y="1301">SH3BP5</text></g>
<g id="d-DENND3" class="sat"><circle cx="327" cy="1298" r="8.5"/><text x="327" y="1301">DENND3</text></g>
<g id="d-CYTH4" class="sat"><circle cx="112" cy="1383" r="8.5"/><text x="112" y="1386">CYTH4</text></g>
<g id="d-MBD6" class="sat"><circle cx="344" cy="1382" r="8.5"/><text x="344" y="1385">MBD6</text></g>
<g id="d-PACSIN2" class="sat"><circle cx="157" cy="1443" r="8.5"/><text x="157" y="1446">PACSIN2</text></g>
<g id="d-DGCR2" class="sat"><circle cx="231" cy="1463" r="8.5"/><text x="231" y="1466">DGCR2</text></g>
<g id="d-DOK3" class="sat"><circle cx="311" cy="1443" r="8.5"/><text x="311" y="1446">DOK3</text></g>
<g id="d-SH3BGRL2" class="sat"><circle cx="436" cy="1226" r="8.5"/><text x="436" y="1229">SH3BGRL2</text></g>
<g id="d-PRKAR2B" class="sat"><circle cx="514" cy="1201" r="8.5"/><text x="514" y="1204">PRKAR2B</text></g>
<g id="d-ITGB3" class="sat"><circle cx="591" cy="1226" r="8.5"/><text x="591" y="1229">ITGB3</text></g>
<g id="d-TREML1" class="sat"><circle cx="389" cy="1291" r="8.5"/><text x="389" y="1294">TREML1</text></g>
<g id="d-GAS2L1" class="sat"><circle cx="639" cy="1291" r="8.5"/><text x="639" y="1294">GAS2L1</text></g>
<g id="d-CMTM5" class="sat"><circle cx="389" cy="1372" r="8.5"/><text x="389" y="1375">CMTM5</text></g>
<g id="d-ITGA2B" class="sat"><circle cx="639" cy="1372" r="8.5"/><text x="639" y="1375">ITGA2B</text></g>
<g id="d-SPARC" class="sat"><circle cx="436" cy="1437" r="8.5"/><text x="436" y="1440">SPARC</text></g>
<g id="d-SELP" class="sat"><circle cx="508" cy="1453" r="8.5"/><text x="508" y="1456">SELP</text></g>
<g id="d-NRGN" class="sat"><circle cx="591" cy="1438" r="8.5"/><text x="591" y="1441">NRGN</text></g>
<g id="d-VNN1" class="sat"><circle cx="672" cy="1276" r="8.5"/><text x="672" y="1279">VNN1</text></g>
<g id="d-SULT1B1" class="sat"><circle cx="712" cy="1364" r="8.5"/><text x="712" y="1367">SULT1B1</text></g>
<g id="d-PFKFB2" class="sat"><circle cx="774" cy="1413" r="8.5"/><text x="774" y="1416">PFKFB2</text></g>
<g id="d-GPR160" class="sat"><circle cx="850" cy="1420" r="8.5"/><text x="850" y="1423">GPR160</text></g>
<g id="d-FAM105A" class="sat"><circle cx="907" cy="1211" r="8.5"/><text x="907" y="1214">FAM105A</text></g>
<g id="d-DACH1" class="sat"><circle cx="935" cy="1283" r="8.5"/><text x="935" y="1286">DACH1</text></g>
<g id="d-DPY19L3" class="sat"><circle cx="922" cy="1370" r="8.5"/><text x="922" y="1373">DPY19L3</text></g>
<g id="d-ALPL" class="sat"><circle cx="1051" cy="1193" r="8.5"/><text x="1051" y="1196">ALPL</text></g>
<g id="d-SIRPA" class="sat"><circle cx="1193" cy="1202" r="8.5"/><text x="1193" y="1205">SIRPA</text></g>
<g id="d-SIGLEC9" class="sat"><circle cx="1009" cy="1248" r="8.5"/><text x="1009" y="1251">SIGLEC9</text></g>
<g id="d-RGL4" class="sat"><circle cx="1249" cy="1266" r="8.5"/><text x="1249" y="1269">RGL4</text></g>
<g id="d-NLRC4" class="sat"><circle cx="1011" cy="1337" r="8.5"/><text x="1011" y="1340">NLRC4</text></g>
<g id="d-FLOT2" class="sat"><circle cx="1254" cy="1343" r="8.5"/><text x="1254" y="1346">FLOT2</text></g>
<g id="d-FLOT1" class="sat"><circle cx="1050" cy="1403" r="8.5"/><text x="1050" y="1406">FLOT1</text></g>
<g id="d-DDAH2" class="sat"><circle cx="1122" cy="1435" r="8.5"/><text x="1122" y="1438">DDAH2</text></g>
<g id="d-DNAJC13" class="sat"><circle cx="1204" cy="1409" r="8.5"/><text x="1204" y="1412">DNAJC13</text></g>
</g>
</svg>
